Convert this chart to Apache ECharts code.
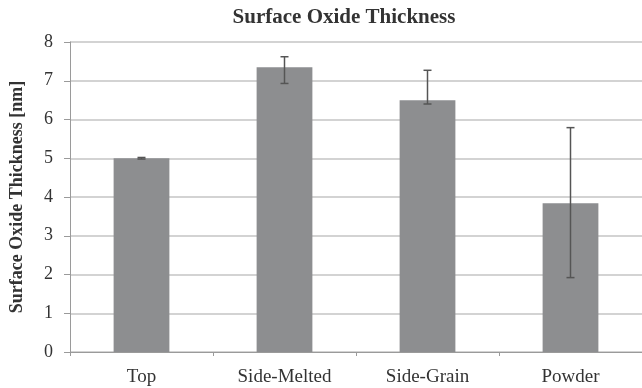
<!DOCTYPE html>
<html><head><meta charset="utf-8">
<script src="https://cdn.jsdelivr.net/npm/echarts@6/dist/echarts.min.js"></script>
<style>html,body{margin:0;padding:0;background:#fff}#c{width:642px;height:388px}</style>
</head><body><div id="c"></div>
<script>
var categories = ['Top', 'Side-Melted', 'Side-Grain', 'Powder'];
var values = [5.0, 7.35, 6.5, 3.84];
var errLow = [4.98, 6.93, 6.40, 1.92];
var errHigh = [5.02, 7.62, 7.27, 5.79];
var yTicks = [0, 1, 2, 3, 4, 5, 6, 7, 8];

var chart = echarts.init(document.getElementById('c'));
var font = '"Liberation Serif", "DejaVu Serif", serif';
chart.setOption({
  animation: false,
  title: {
    text: 'Surface Oxide Thickness',
    left: 339, top: 2, textAlign: 'center',
    textStyle: { fontFamily: font, fontSize: 21, fontWeight: 'bold', color: '#333' }
  },
  grid: { left: 67, right: -4, top: 42, bottom: 36, containLabel: false },
  xAxis: {
    type: 'category', data: categories,
    axisLine: { lineStyle: { color: '#9a9a9a', width: 1 } },
    axisTick: { show: true, alignWithLabel: false, length: 4, lineStyle: { color: '#9a9a9a' } },
    axisLabel: { fontFamily: font, fontSize: 19, color: '#333', margin: 16 }
  },
  yAxis: {
    type: 'value', min: yTicks[0], max: yTicks[yTicks.length - 1], interval: 1,
    name: 'Surface Oxide Thickness [nm]', nameLocation: 'middle', nameGap: 44,
    nameTextStyle: { fontFamily: font, fontSize: 18, fontWeight: 'bold', color: '#333' },
    axisLine: { show: true, lineStyle: { color: '#9a9a9a' } },
    axisTick: { show: true, length: 6, lineStyle: { color: '#9a9a9a' } },
    axisLabel: { fontFamily: font, fontSize: 18, color: '#333', margin: 17 },
    splitLine: { lineStyle: { color: '#c4c4c4', width: 1.5 } }
  },
  series: [
    {
      type: 'bar', data: values, barWidth: '39%',
      itemStyle: { color: '#8d8e90' }
    },
    {
      type: 'custom', z: 10,
      data: categories.map(function (c, i) { return [i, errLow[i], errHigh[i]]; }),
      renderItem: function (params, api) {
        var x = api.value(0);
        var lo = api.coord([x, api.value(1)]);
        var hi = api.coord([x, api.value(2)]);
        var hw = 4;
        var st = { stroke: '#555', lineWidth: 1.5 };
        return { type: 'group', children: [
          { type: 'line', shape: { x1: lo[0], y1: lo[1], x2: hi[0], y2: hi[1] }, style: st },
          { type: 'line', shape: { x1: lo[0] - hw, y1: lo[1], x2: lo[0] + hw, y2: lo[1] }, style: st },
          { type: 'line', shape: { x1: hi[0] - hw, y1: hi[1], x2: hi[0] + hw, y2: hi[1] }, style: st }
        ]};
      }
    }
  ]
});
</script></body></html>
